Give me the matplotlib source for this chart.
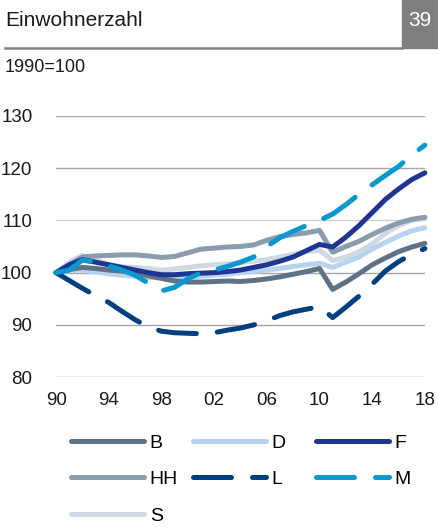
import matplotlib
matplotlib.use("Agg")
import matplotlib.pyplot as plt
from matplotlib.lines import Line2D

plt.rcParams["font.family"] = ["Liberation Sans", "DejaVu Sans"]

# Einwohnerzahl, Index 1990=100
years = list(range(1990, 2019))
b = [100.0, 100.6, 101.0, 100.8, 100.5, 100.3, 100.0, 99.4, 98.9, 98.4,
     98.2, 98.2, 98.3, 98.4, 98.3, 98.5, 98.8, 99.2, 99.7, 100.2,
     100.8, 96.8, 98.2, 99.8, 101.5, 102.8, 104.0, 104.9, 105.6]
d = [100.0, 100.4, 100.5, 100.1, 99.8, 99.5, 99.3, 99.1, 99.0, 99.0,
     99.2, 99.3, 99.5, 99.7, 100.0, 100.2, 100.5, 100.8, 101.2, 101.5,
     101.8, 101.0, 102.0, 103.0, 104.5, 105.8, 107.0, 108.0, 108.6]
f = [100.0, 101.5, 102.5, 102.0, 101.5, 101.0, 100.5, 100.0, 99.6, 99.6,
     99.8, 99.9, 100.0, 100.2, 100.5, 101.0, 101.5, 102.2, 103.0, 104.2,
     105.4, 104.9, 106.8, 109.0, 111.5, 114.0, 116.0, 117.8, 119.1]
hh = [100.0, 101.5, 103.0, 103.2, 103.3, 103.4, 103.4, 103.2, 102.9, 103.1,
      103.8, 104.5, 104.7, 104.9, 105.0, 105.3, 106.2, 106.9, 107.3, 107.6,
      108.1, 103.9, 105.0, 106.0, 107.3, 108.5, 109.5, 110.2, 110.6]
l = [100.0, 98.5, 97.0, 95.6, 94.3, 92.6, 91.0, 89.6, 88.8, 88.5,
     88.4, 88.3, 88.5, 89.0, 89.4, 90.0, 90.8, 91.8, 92.5, 93.0,
     93.5, 91.4, 93.4, 95.5, 97.8, 100.3, 102.1, 103.5, 104.6]
m = [100.0, 100.5, 102.4, 102.0, 101.3, 100.5, 99.5, 98.0, 96.5, 97.2,
     98.8, 100.0, 100.5, 101.2, 102.0, 103.0, 105.0, 106.7, 107.9, 109.0,
     110.0, 111.2, 113.0, 115.0, 116.8, 118.6, 120.3, 122.5, 124.4]
s = [100.0, 102.0, 103.3, 102.5, 101.6, 101.1, 101.0, 100.8, 100.5, 100.7,
     101.0, 101.3, 101.5, 101.7, 101.9, 102.2, 102.5, 103.0, 103.5, 104.0,
     104.3, 102.3, 103.0, 104.0, 105.5, 107.5, 109.0, 110.0, 110.4]

x_ticks = [1990, 1994, 1998, 2002, 2006, 2010, 2014, 2018]
x_labels = ["90", "94", "98", "02", "06", "10", "14", "18"]
y_ticks = [80, 90, 100, 110, 120, 130]

# name, values, colour, dashed
series = [
    ("B", b, "#5e7285", False),
    ("D", d, "#b8d3f0", False),
    ("F", f, "#1f3594", False),
    ("HH", hh, "#8b9cad", False),
    ("L", l, "#003f80", True),
    ("M", m, "#0798d0", True),
    ("S", s, "#d0d9e2", False),
]
style = {name: (col, dashed) for name, _, col, dashed in series}
# draw order: light lines underneath, dashed on top
draw_order = ["S", "D", "B", "HH", "F", "L", "M"]

fig = plt.figure(figsize=(4.38, 5.29), dpi=100)
ax = fig.add_axes([0.128, 0.287, 0.842, 0.494])

lw = 3.6
dash = (7.6, 4.2)


def make_line(name, xs=(), ys=()):
    col, dashed = style[name]
    ln = Line2D(xs, ys, color=col, lw=lw, solid_capstyle="round",
                dash_capstyle="round", solid_joinstyle="round")
    if dashed:
        ln.set_dashes(dash)
    return ln


for name in draw_order:
    vals = next(sr[1] for sr in series if sr[0] == name)
    ln = make_line(name, years, vals)
    ln.set_clip_on(False)
    ln.set_zorder(3)
    ax.add_line(ln)

ax.set_xlim(1990, 2018)
ax.set_ylim(80, 130)
ax.set_xticks(x_ticks)
ax.set_xticklabels(x_labels)
ax.set_yticks(y_ticks)
ax.tick_params(length=0, labelsize=13.5, colors="#1a1a1a")
ax.tick_params(axis="x", pad=11)
ax.tick_params(axis="y", pad=17)
for sp in ax.spines.values():
    sp.set_visible(False)
ax.yaxis.grid(True, color="#a6a6a6", lw=1.0)
ax.set_axisbelow(True)
for gl, t in zip(ax.get_ygridlines(), y_ticks):
    if t == 110:
        gl.set_color("#cfcfcf")

# legend: three fixed-width columns, filled row by row
leg_cols = [["B", "HH", "S"], ["D", "L"], ["F", "M"]]
col_x = [71, 193, 316]
for names, x0 in zip(leg_cols, col_x):
    fig.legend([make_line(n) for n in names], names, frameon=False,
               loc="upper left", bbox_to_anchor=(x0 / 438, 1 - 434 / 529),
               fontsize=14, handlelength=3.75, handletextpad=0.3,
               labelspacing=0.98, borderaxespad=0, borderpad=0)

# header
fig.text(5 / 438, 1 - 21 / 529, "Einwohnerzahl", fontsize=15,
         va="center", ha="left", color="#1a1a1a")
fig.add_artist(Line2D([5 / 438, 402 / 438], [1 - 48 / 529, 1 - 48 / 529],
                      color="#808080", lw=1.8))
fig.patches.append(plt.Rectangle((402 / 438, 1 - 48 / 529), 36 / 438, 48 / 529,
                                 transform=fig.transFigure, color="#7f7f7f"))
fig.text(420 / 438, 1 - 21 / 529, "39", fontsize=15, color="white",
         va="center", ha="center")
fig.text(5 / 438, 1 - 68 / 529, "1990=100", fontsize=13,
         va="center", ha="left", color="#1a1a1a")

fig.savefig("out.png", dpi=100)
